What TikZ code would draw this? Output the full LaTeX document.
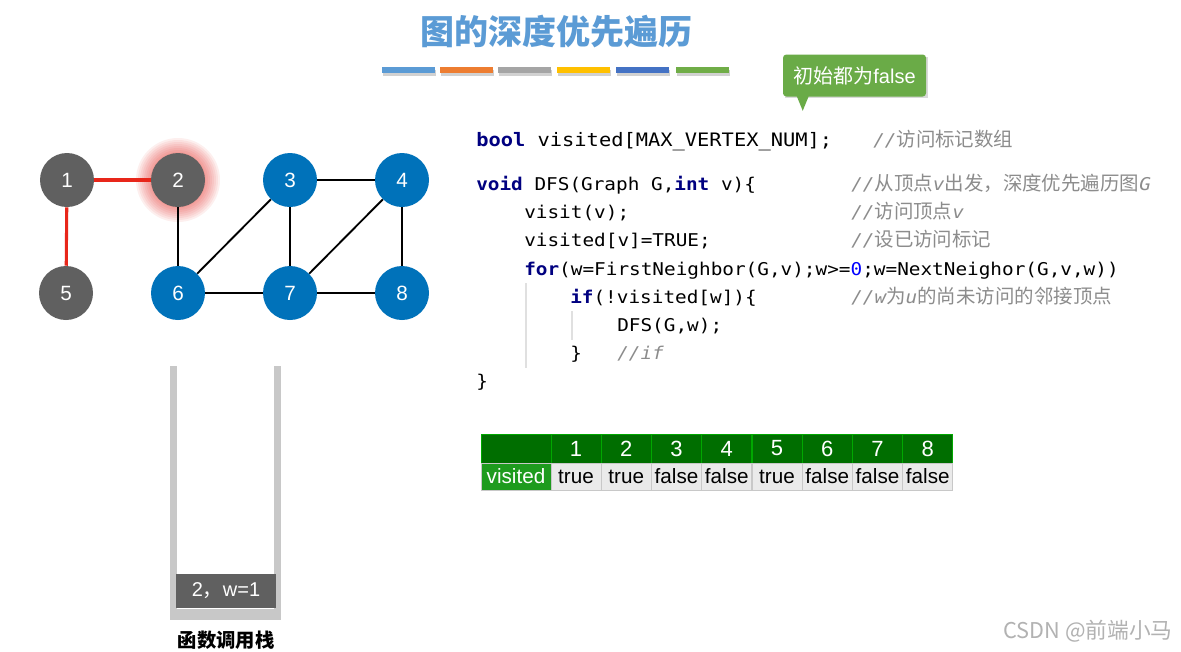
\documentclass[tikz,border=0pt]{standalone}
\usepackage{fontspec}
\setmainfont{Liberation Sans}
\newfontfamily\cjk{Noto Sans CJK SC}
\newfontfamily\codefont[FakeStretch=1.1]{DejaVu Sans Mono}
\definecolor{titleblue}{HTML}{5B9BD5}
\definecolor{barorange}{HTML}{ED7D31}
\definecolor{bargray}{HTML}{A5A5A5}
\definecolor{baryellow}{HTML}{FFC000}
\definecolor{barblue}{HTML}{4472C4}
\definecolor{bargreen}{HTML}{70AD47}
\definecolor{callgreen}{HTML}{6AAB47}
\definecolor{vgray}{HTML}{606060}
\definecolor{vblue}{HTML}{0072BA}
\definecolor{edgered}{HTML}{E8261A}
\definecolor{kwblue}{HTML}{000080}
\definecolor{zeroblue}{HTML}{0000FF}
\definecolor{cmtgray}{HTML}{8C8C8C}
\definecolor{hdrgreen}{HTML}{006E00}
\definecolor{visgreen}{HTML}{1E9B1E}
\definecolor{cellgray}{HTML}{EAEAEA}
\definecolor{cellline}{HTML}{C8C8C8}
\definecolor{stackgray}{HTML}{C8C8C8}
\newcommand{\kw}[1]{{\color{kwblue}\bfseries #1}}
\newcommand{\cj}[1]{{\cjk\fontsize{14.6}{16}\selectfont #1}}
\newcommand{\ci}[1]{{\itshape #1}}
\begin{document}
\begin{tikzpicture}[x=0.75pt,y=-0.75pt,
  vtx/.style={circle,minimum size=54*0.75pt,inner sep=0,text=white,font=\fontsize{15.5}{16}\selectfont},
  gv/.style={vtx,fill=vgray},
  bv/.style={vtx,fill=vblue},
  redge/.style={edgered,line width=2.3pt},
  bedge/.style={black,line width=1.4pt},
  code/.style={anchor=base west,inner sep=0,font=\codefont\fontsize{13.2}{15}\selectfont},
  cmt/.style={anchor=base west,inner sep=0,text=cmtgray,font=\codefont\fontsize{13.2}{15}\selectfont},
  bar/.style={minimum width=53*0.75pt,minimum height=6*0.75pt,inner sep=0,anchor=north west},
  hdr/.style={fill=hdrgreen,draw=green!40!hdrgreen,line width=0.5pt,text=white,minimum height=29*0.75pt,minimum width=50*0.75pt,inner sep=0,font=\fontsize{16.5}{17}\selectfont},
  cell/.style={fill=cellgray,draw=cellline,line width=0.5pt,text=black,minimum height=27*0.75pt,minimum width=50*0.75pt,inner sep=0,font=\fontsize{15.5}{16}\selectfont},
]
\useasboundingbox[fill=white] (0,0) rectangle (1181,651);

% title
\node[text=titleblue,font=\cjk\bfseries\fontsize{25.5}{28}\selectfont] (title) at (556,32) {图的深度优先遍历};
% bars with shadows
\foreach \x/\c [count=\i] in {382/titleblue,440/barorange,498/bargray,557/baryellow,616/barblue,676/bargreen}{
  \fill[black,opacity=0.18] (\x+1,70) rectangle (\x+54,76);
  \node[bar,fill=\c] (bar\i) at (\x,67) {};
}

% callout
\fill[black,opacity=0.15] (785,57) rectangle (928,98);
\node[fill=callgreen,rounded corners=2.5pt,minimum width=143*0.75pt,minimum height=42*0.75pt,inner sep=0,text=white,
  font=\cjk\fontsize{15}{16}\selectfont] (callout) at (854.5,75.5) {初始都为{\rmfamily false}};
\fill[callgreen] ([xshift=14*0.75pt,yshift=0.5pt]callout.south west) -- ([xshift=26*0.75pt,yshift=0.5pt]callout.south west) -- ([xshift=20*0.75pt,yshift=-14*0.75pt]callout.south west) -- cycle;

% graph
\foreach \r in {42,40,38,36,34,32,30,28}{
  \fill[edgered,opacity=0.07] (178,180) circle (\r);
}
\node[gv] (n1) at (67,180) {1};
\node[gv] (n2) at (178,180) {2};
\node[bv] (n3) at (290,180) {3};
\node[bv] (n4) at (402,180) {4};
\node[gv] (n5) at (66,293) {5};
\node[bv] (n6) at (178,293) {6};
\node[bv] (n7) at (290,293) {7};
\node[bv] (n8) at (402,293) {8};
\draw[redge] (n1) -- (n2);
\draw[redge] (n1) -- (n5);
\draw[bedge] (n2) -- (n6);
\draw[bedge] (n3) -- (n4);
\draw[bedge] (n3) -- (n6);
\draw[bedge] (n3) -- (n7);
\draw[bedge] (n4) -- (n7);
\draw[bedge] (n4) -- (n8);
\draw[bedge] (n6) -- (n7);
\draw[bedge] (n7) -- (n8);

% code guides
\draw[black!12,line width=0.8pt] (526,283) -- (526,368);
\draw[black!12,line width=0.8pt] (572,311) -- (572,340);

% code
\node[code,font=\codefont\fontsize{13.9}{15}\selectfont] (c1) at (476,146) {\kw{bool} visited[MAX\_VERTEX\_NUM];};
\node[cmt] (k1) at (873,146) {\ci{//}\cj{访问标记数组}};
\node[code] (c2) at (476,190) {\kw{void} DFS(Graph G,\kw{int} v)\{};
\node[cmt] (k2) at (851,190) {\ci{//}\cj{从顶点}\ci{v}\cj{出发，深度优先遍历图}\ci{G}};
\node[code] (c3) at (524,218) {visit(v);};
\node[cmt] (k3) at (851,218) {\ci{//}\cj{访问顶点}\ci{v}};
\node[code] (c4) at (524,246) {visited[v]=TRUE;};
\node[cmt] (k4) at (851,246) {\ci{//}\cj{设已访问标记}};
\node[code] (c5) at (524,275) {\kw{for}(w=FirstNeighbor(G,v);w>=\textcolor{zeroblue}{0};w=NextNeighor(G,v,w))};
\node[code] (c6) at (570,303) {\kw{if}(!visited[w])\{};
\node[cmt] (k6) at (851,303) {\ci{//w}\cj{为}\ci{u}\cj{的尚未访问的邻接顶点}};
\node[code] (c7) at (617,331) {DFS(G,w);};
\node[code] (c8) at (570,359) {\}};
\node[cmt] (k8) at (617,359) {\ci{//if}};
\node[code] (c9) at (476,387) {\}};

% table
\node[hdr,minimum width=70*0.75pt] (h0) at (516,448.5) {};
\node[cell,fill=visgreen,text=white,minimum width=70*0.75pt] (v0) at (516,476.5) {visited};
\foreach \v [count=\i] in {true,true,false,false,true,false,false,false}{
  \node[hdr] (h\i) at (576+50.25*\i-50.25,448.5) {\i};
  \node[cell] (v\i) at (576+50.25*\i-50.25,476.5) {\v};
}

% stack
\fill[stackgray] (170,366) rectangle (177,620);
\fill[stackgray] (274,366) rectangle (281,620);
\fill[stackgray] (170,609) rectangle (281,620);
\node[fill=vgray,minimum width=100*0.75pt,minimum height=34*0.75pt,inner sep=0,text=white,
  font=\fontsize{15}{16}\selectfont] (frame1) at (226,591) {2{\cjk ，}w=1};
\node[font=\cjk\bfseries\fontsize{14.5}{15}\selectfont,inner sep=0] (stacklbl) at (226,640) {函数调用栈};

% watermark
\node[text=black!30,font=\cjk\fontsize{16.3}{17}\selectfont,anchor=west,inner sep=0] (wm) at (1003,631) {CSDN @前端小马};
\end{tikzpicture}
\end{document}
